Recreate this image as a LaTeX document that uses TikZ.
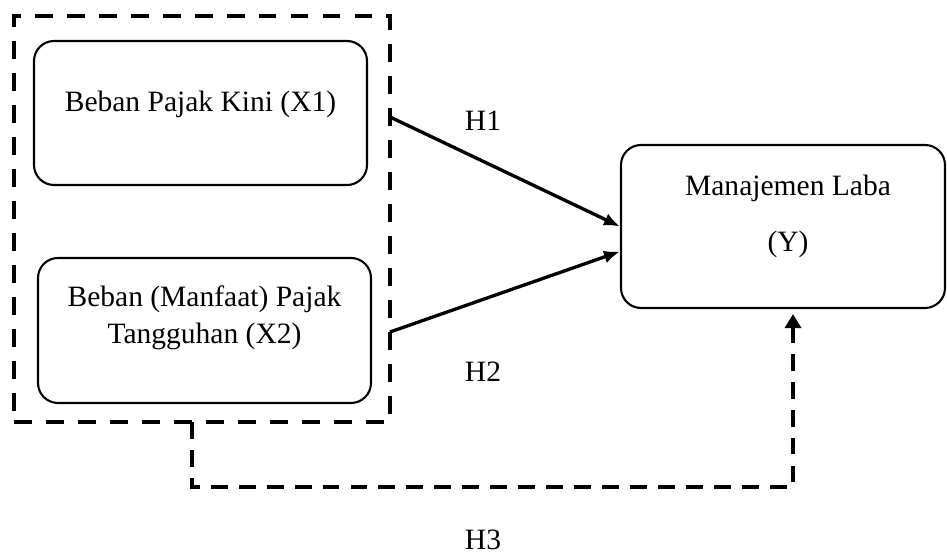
\documentclass[tikz,border=0pt]{standalone}
\usepackage{fontspec}
\setmainfont{Liberation Serif}
\usetikzlibrary{arrows.meta}
\usetikzlibrary{positioning}

\begin{document}
\begin{tikzpicture}[
	every node/.style={font=\fontsize{16.8}{21}\selectfont},
  > = {Latex[length=0.32cm,width=0.26cm]},
  kotak/.style = {draw,rounded corners=0.4cm,line width=1.2pt,inner sep=0pt},
  teks/.style = {align=center,inner sep=0pt},
  kelompok/.style = {draw,line width=2.4pt,dash pattern=on 10.2pt off 8pt,inner sep=0pt,outer sep=0pt},
  panah/.style = {->,line width=1.9pt},
  putus/.style = {line width=2pt,dash pattern=on 9.6pt off 6.3pt,-{Triangle[length=0.28cm,width=0.32cm]}}
  ]
	\useasboundingbox (0,0) rectangle (18.94,11.06);

	\coordinate (@grup) at (4.04,6.68);
	\coordinate (@x1) at (4.01,8.80);
	\coordinate (@x2) at (4.09,4.45);
	\coordinate (@y) at (15.66,6.53);

	\node[kelompok,minimum width=7.52cm,minimum height=8.12cm] (grup) at (@grup) {};
	\node[kotak,minimum width=6.66cm,minimum height=2.88cm] (x1) at (@x1) {};
	\node[kotak,minimum width=6.66cm,minimum height=2.90cm] (x2) at (@x2) {};
	\node[kotak,minimum width=6.48cm,minimum height=3.26cm] (y) at (@y) {};

	\node[teks] (x1teks) at ([yshift=-1.28cm]x1.north) {Beban Pajak Kini (X1)};
	\node[teks] (x2teks) at ([yshift=-1.21cm]x2.north) {Beban (Manfaat) Pajak\\Tangguhan (X2)};
	\node[teks] (yteks) at ([xshift=0.1cm,yshift=-1.44cm]y.north) {Manajemen Laba\\[10.9pt](Y)};

	\draw[panah] ([yshift=2.04cm]grup.east) -- (y.west);
  	\draw[panah] ([yshift=-2.26cm]grup.east) -- ([yshift=-0.5cm]y.west);
	\draw[putus] ([xshift=-0.2cm]grup.south) -- ++(0,-1.30) -| ([xshift=0.2cm,yshift=-0.1cm]y.south);

	\node (h1) at (9.66,8.64) {H1};
	\node (h2) at (9.66,3.62) {H2};
	\node[inner sep=1pt] (h3) at (9.66,0.27) {H3};

\end{tikzpicture}
\end{document}
